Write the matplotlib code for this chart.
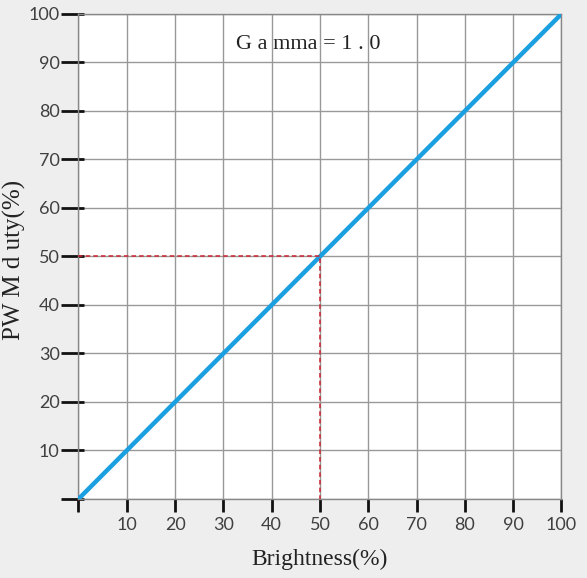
import numpy as np
import matplotlib.pyplot as plt

# data
brightness = [0, 10, 20, 30, 40, 50, 60, 70, 80, 90, 100]
pwm_duty = [0, 10, 20, 30, 40, 50, 60, 70, 80, 90, 100]
ref_point = (50, 50)
ticks = [0, 10, 20, 30, 40, 50, 60, 70, 80, 90, 100]
tick_labels = [''] + [str(t) for t in ticks[1:]]

fig = plt.figure(figsize=(5.87, 5.78), dpi=100, facecolor='#eeeeee')
ax = fig.add_axes([0.1337, 0.1367, 0.8228, 0.8391])
ax.set_facecolor('white')

ax.plot(brightness, pwm_duty, color='#1a9fe0', lw=3.2, solid_capstyle='butt', zorder=3)
ax.plot([0, ref_point[0], ref_point[0]], [ref_point[1], ref_point[1], 0],
        color='#cc2233', lw=1.1, ls=(0, (3, 2)), zorder=4)

ax.set_xlim(0, 100)
ax.set_ylim(0, 100)
ax.set_xticks(ticks)
ax.set_yticks(ticks)
ax.set_xticklabels(tick_labels, fontsize=13, color='#404040', family='Lato')
ax.set_yticklabels(tick_labels, fontsize=13, color='#404040', family='Lato')
ax.tick_params(axis='x', direction='out', length=9, width=2, color='#111111', pad=4)
ax.tick_params(axis='y', direction='out', length=12, width=2, color='#111111', pad=1.5)
# short inner part of the y ticks
ax.yaxis.remove_overlapping_locs = False
ax.set_yticks(ticks, minor=True)
ax.tick_params(axis='y', which='minor', direction='in', length=4.5, width=2, color='#111111')
ax.grid(True, color='#999999', lw=1)
for s in ax.spines.values():
    s.set_color('#888888')
    s.set_linewidth(1)

ax.text(47.5, 93.8, 'G a mma = 1 . 0', ha='center', va='center',
        fontsize=16, family='Liberation Serif', color='#222222')
ax.set_xlabel('Brightness(%)', fontsize=17, family='Liberation Serif', color='#222222', labelpad=11)
ax.set_ylabel('PW M d uty(%)', fontsize=18, family='Liberation Serif', color='#222222')
ax.yaxis.set_label_coords(-0.108, 0.493)

fig.savefig('out.png', dpi=100, facecolor=fig.get_facecolor())
